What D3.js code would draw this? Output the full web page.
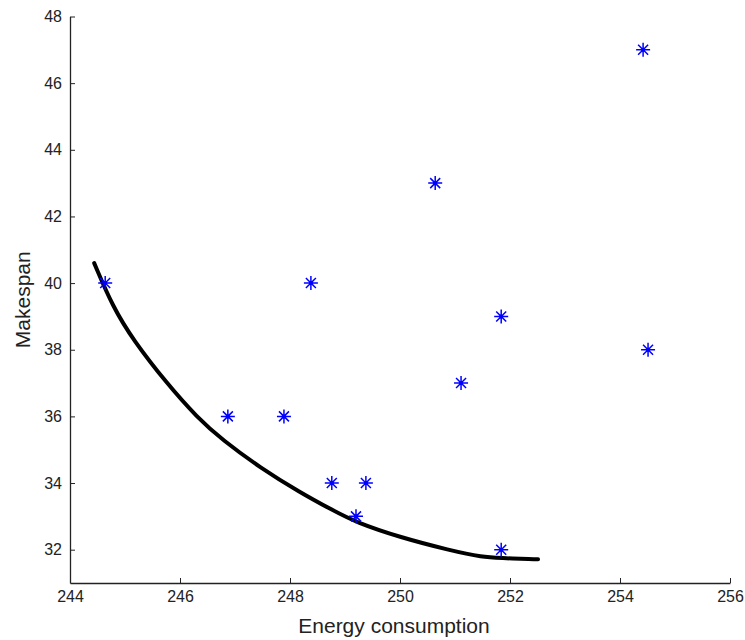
<!DOCTYPE html>
<html>
<head>
<meta charset="utf-8">
<script src="https://cdn.jsdelivr.net/npm/d3@7"></script>
<style>
  body { margin: 0; background: #fff; }
  svg { display: block; }
  .axis text { font-family: "Liberation Sans", Arial, sans-serif; font-size: 16px; fill: #222; }
  .axis path, .axis line { stroke: #222; }
</style>
</head>
<body>
<script>
// scatter of solutions
var energy   = [244.64, 246.87, 247.89, 248.38, 248.76, 249.38, 249.2, 250.64, 251.11, 251.84, 251.84, 254.42, 254.51];
var makespan = [40, 36, 36, 40, 34, 34, 33, 43, 37, 39, 32, 47, 38];

// pareto front curve
var frontX = [244.44, 244.78, 245.15, 245.76, 246.31, 246.78, 247.45, 248.18, 248.78, 249.2, 250.0, 250.91, 251.51, 251.82, 252.42, 252.51];
var frontY = [40.6, 39.28, 38.29, 36.99, 35.97, 35.28, 34.47, 33.72, 33.18, 32.82, 32.37, 31.98, 31.77, 31.75, 31.71, 31.71];

var xTicks = [244, 246, 248, 250, 252, 254, 256];
var yTicks = [32, 34, 36, 38, 40, 42, 44, 46, 48];

var w = 745, h = 640;
var plotL = 70, plotR = 730, plotT = 16.5, plotB = 583;

var svg = d3.select("body").append("svg")
    .attr("width", w)
    .attr("height", h);

var x = d3.scaleLinear().domain([244, 256]).range([plotL, plotR]);
var y = d3.scaleLinear().domain([31, 48]).range([plotB, plotT]);

// axes, ticks pointing inward
svg.append("g")
    .attr("class", "axis")
    .attr("transform", "translate(0," + plotB + ")")
    .call(d3.axisBottom(x).tickValues(xTicks).tickSizeInner(-5).tickSizeOuter(0).tickPadding(8).tickFormat(d3.format("d")))
    .call(function(g) { g.select(".domain").attr("stroke-width", 1.3); });

svg.append("g")
    .attr("class", "axis")
    .attr("transform", "translate(" + plotL + ",0)")
    .call(d3.axisLeft(y).tickValues(yTicks).tickSizeInner(-5).tickSizeOuter(0).tickPadding(8).tickFormat(d3.format("d")))
    .call(function(g) { g.select(".domain").attr("stroke-width", 1.3); });

// curve
var line = d3.line()
    .x(function(d) { return x(d[0]); })
    .y(function(d) { return y(d[1]); })
    .curve(d3.curveBasis);

svg.append("path")
    .datum(frontX.map(function(v, i) { return [v, frontY[i]]; }))
    .attr("d", line)
    .attr("fill", "none")
    .attr("stroke", "#000")
    .attr("stroke-width", 4)
    .attr("stroke-linecap", "round");

// asterisk markers
var r = 7, rd = 5;
var star = "M0," + (-r) + "V" + r + "M" + (-r) + ",0H" + r +
    "M" + (-rd) + "," + (-rd) + "L" + rd + "," + rd +
    "M" + (-rd) + "," + rd + "L" + rd + "," + (-rd);

var pts = svg.selectAll("g.pt")
    .data(energy.map(function(v, i) { return [v, makespan[i]]; }))
    .enter()
    .append("g")
    .attr("class", "pt")
    .attr("transform", function(d) { return "translate(" + x(d[0]) + "," + y(d[1]) + ")"; });

pts.append("path")
    .attr("d", star)
    .attr("stroke", "#0000ff")
    .attr("stroke-width", 1.5)
    .attr("fill", "none");

pts.append("circle")
    .attr("r", 2)
    .attr("fill", "#0000ff");

// labels
svg.append("text")
    .attr("x", 394)
    .attr("y", 633)
    .attr("text-anchor", "middle")
    .attr("font-family", "Liberation Sans, Arial, sans-serif")
    .attr("font-size", "21px")
    .attr("fill", "#222")
    .text("Energy consumption");

svg.append("text")
    .attr("transform", "translate(30," + ((plotT + plotB) / 2) + ") rotate(-90)")
    .attr("text-anchor", "middle")
    .attr("font-family", "Liberation Sans, Arial, sans-serif")
    .attr("font-size", "21px")
    .attr("fill", "#222")
    .text("Makespan");
</script>
</body>
</html>
